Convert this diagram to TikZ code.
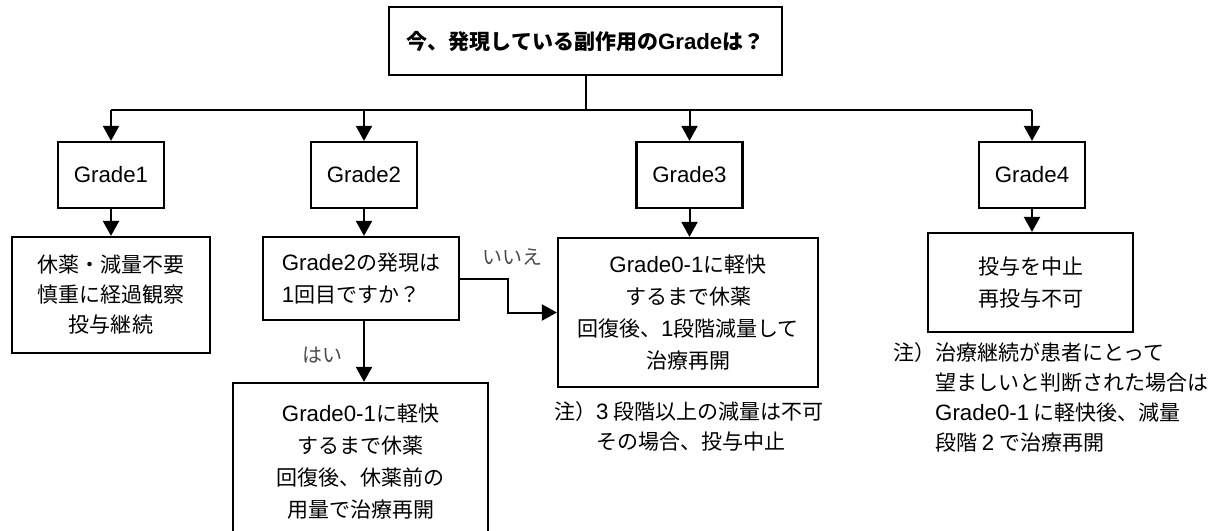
\documentclass[tikz,border=0pt]{standalone}
\usepackage{fontspec}
\setmainfont{Noto Sans CJK JP}
\newfontfamily\lat[Scale=1.06]{Liberation Sans}
\usepackage{tikz}
\usetikzlibrary{positioning, arrows.meta}

\tikzset{
	box/.style={draw, line width=2.2pt, align=center, inner sep=0pt, font=\fontsize{21}{32}\selectfont},
	grade/.style={box, minimum width=106pt, minimum height=66pt},
	arr/.style={line width=2pt, -{Triangle[length=15pt, width=16pt]}},
	line/.style={line width=2pt},
	lab/.style={font=\fontsize{20}{24}\selectfont, text=black!70},
	note/.style={align=left, inner sep=0pt, font=\fontsize{21}{30}\selectfont}
}

\begin{document}
\begin{tikzpicture}[x=1pt, y=-1pt]
		\clip (0,0) rectangle (1217,530);
		\node[box, font=\bfseries\fontsize{21}{32}\selectfont, minimum width=393pt, minimum height=68pt] (top) at (585.5,41) {今、発現している副作用の{\lat Grade}は？};
		
		\node[grade] (g1) at (111,175) {\lat Grade1};
		\node[grade] (g2) at (364,175) {\lat Grade2};
		\node[grade] (g3) at (689.5,175) {\lat Grade3};
		\node[grade] (g4) at (1032,175) {\lat Grade4};
		
		\node[box, minimum width=198pt, minimum height=116pt, font=\fontsize{21}{30}\selectfont] (r1) at (111,295) {休薬・減量不要\\慎重に経過観察\\投与継続};
		\node[box, align=left, minimum width=196pt, minimum height=83pt] (q2) at (361,278.5) {{\lat Grade2}の発現は\\{\lat 1}回目ですか？};
		\node[box, minimum width=255pt, minimum height=158pt] (r2) at (360.5,462) {{\lat Grade0-1}に軽快\\するまで休薬\\回復後、休薬前の\\用量で治療再開};
		\node[box, minimum width=260pt, minimum height=149pt] (r3) at (688,312.5) {{\lat Grade0-1}に軽快\\するまで休薬\\回復後、{\lat 1}段階減量して\\治療再開};
		\node[box, minimum width=205pt, minimum height=99pt] (r4) at (1030.5,282.5) {投与を中止\\再投与不可};
		
		\node[lab] (no) at (512,257) {いいえ};
		\node[lab] (yes) at (322,355) {はい};
		
		\node[note, anchor=north west] (n3) at (554,401) {注）{\lat 3} 段階以上の減量は不可\\\phantom{注）}その場合、投与中止};
		\node[note, anchor=north west] (n4) at (893,342) {注）治療継続が患者にとって\\\phantom{注）}望ましいと判断された場合は\\\phantom{注）}{\lat Grade0-1} に軽快後、減量\\\phantom{注）}段階 {\lat 2} で治療再開};
		
		\coordinate (bus) at (0,110);
		\draw[line] (top.south) -- (top.south |- bus);
		\draw[line] (g1 |- bus) -- (g4 |- bus);
		\draw[arr] (g1 |- bus) -- (g1.north);
		\draw[arr] (g2 |- bus) -- (g2.north);
		\draw[arr] (g3 |- bus) -- (g3.north);
		\draw[arr] (g4 |- bus) -- (g4.north);
		
		\draw[arr] (g1) -- (r1);
		\draw[arr] (g2) -- (g2 |- q2.north);
		\draw[arr] (g3) -- (g3 |- r3.north);
		\draw[arr] (g4) -- (g4 |- r4.north);
		\draw[arr] (q2.south -| g2) -- (r2.north -| g2);
		\draw[arr] (q2.east) -- ++(48,0) |- (r3.west);
	\end{tikzpicture}
\end{document}
